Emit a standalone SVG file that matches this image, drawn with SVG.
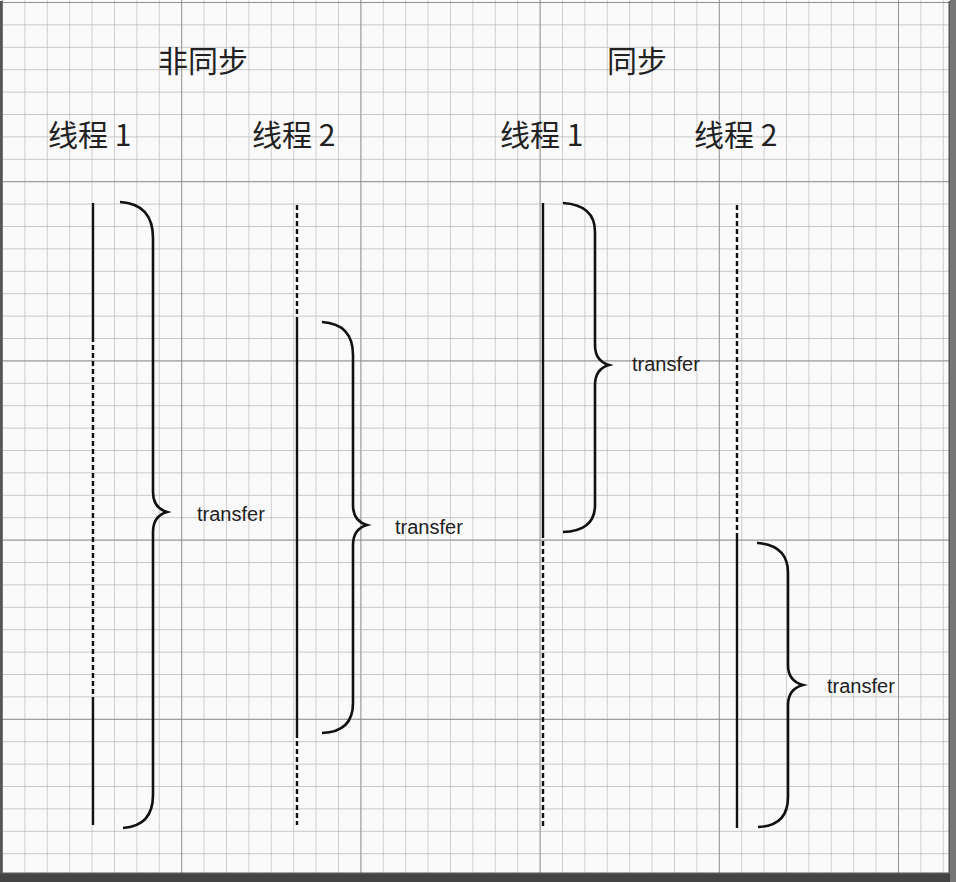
<svg xmlns="http://www.w3.org/2000/svg" width="956" height="882" viewBox="0 0 956 882">
<defs>
<pattern id="fine" width="22.4" height="22.4" patternUnits="userSpaceOnUse" x="2" y="2">
<path d="M0 0V22.4M0 0H22.4" fill="none" stroke="#b8b8b8" stroke-width="1.3"/>
</pattern>
<pattern id="major" width="179.2" height="179.2" patternUnits="userSpaceOnUse" x="2" y="2">
<path d="M0 0V179.2M0 0H179.2" fill="none" stroke="#7e7e7e" stroke-width="1.4"/>
</pattern>
</defs>
<style>
.cjk{font-family:"Noto Sans CJK SC","Liberation Serif",serif;font-size:30px;fill:#222}
.lbl{font-family:"Liberation Sans",Arial,sans-serif;font-size:20px;fill:#222}
.s{stroke:#111;stroke-width:2.4;fill:none}
.d{stroke:#111;stroke-width:2.4;fill:none;stroke-dasharray:5 3}
.b{stroke:#111;stroke-width:2.6;fill:none}
</style>
<rect width="956" height="882" fill="#fafafa"/>
<rect width="956" height="882" fill="url(#fine)"/>
<rect width="956" height="882" fill="url(#major)"/>
<path d="M1 1V874H950V1" fill="none" stroke="#555" stroke-width="3"/>
<rect x="0" y="874" width="956" height="8" fill="#444"/>
<rect x="950" y="0" width="6" height="882" fill="#777"/>
<g id="titles">
<text class="cjk" x="158" y="72">非同步</text>
<text class="cjk" x="607" y="72">同步</text>
<text class="cjk" x="48" y="146">线程 1</text>
<text class="cjk" x="252" y="146">线程 2</text>
<text class="cjk" x="500" y="146">线程 1</text>
<text class="cjk" x="694" y="146">线程 2</text>
</g>
<g id="connectors">
<g id="async-t1"><line class="s" x1="93" y1="203" x2="93" y2="337"/><line class="d" x1="93" y1="337" x2="93" y2="700"/><line class="s" x1="93" y1="700" x2="93" y2="825"/></g>
<g id="async-t2"><line class="d" x1="297" y1="205" x2="297" y2="318"/><line class="s" x1="297" y1="318" x2="297" y2="733"/><line class="d" x1="297" y1="733" x2="297" y2="825"/></g>
<g id="sync-t1"><line class="s" x1="543" y1="203" x2="543" y2="533"/><line class="d" x1="543" y1="533" x2="543" y2="828"/></g>
<g id="sync-t2"><line class="d" x1="737" y1="205" x2="737" y2="533"/><line class="s" x1="737" y1="533" x2="737" y2="828"/></g>
</g>
<g id="brace1">
<path class="b" d="M120 202Q153 204 153 238V492Q153 508 167 512Q153 516 153 532V795Q153 826 123 828"/>
<text class="lbl" x="197" y="521">transfer</text>
</g>
<g id="brace2">
<path class="b" d="M322 322Q353 324 353 355V505Q353 521 367 525Q353 529 353 545V703Q353 732 322 733"/>
<text class="lbl" x="395" y="534">transfer</text>
</g>
<g id="brace3">
<path class="b" d="M563 203Q595 205 595 232V345Q595 361 609 365Q595 369 595 385V505Q595 531 563 532"/>
<text class="lbl" x="632" y="371">transfer</text>
</g>
<g id="brace4">
<path class="b" d="M757 543Q788 545 788 573V665Q788 681 803 685Q788 689 788 705V797Q788 826 758 827"/>
<text class="lbl" x="827" y="693">transfer</text>
</g>
</svg>
